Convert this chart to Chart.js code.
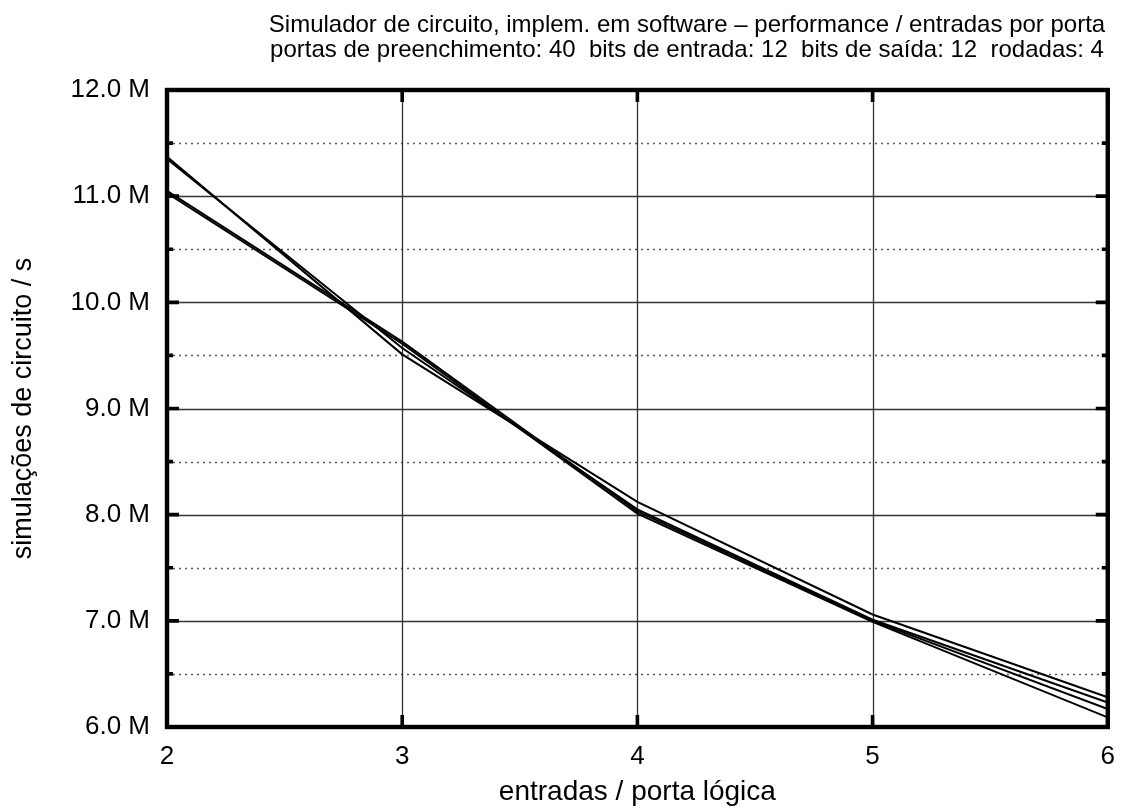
<!DOCTYPE html>
<html>
<head>
<meta charset="utf-8">
<title>Simulador de circuito – performance</title>
<script src="https://cdn.jsdelivr.net/npm/chart.js@4.4.1/dist/chart.umd.min.js"></script>
<style>
  html, body { margin: 0; padding: 0; background: #fff; }
</style>
</head>
<body>
<canvas id="perfChart" width="1121" height="812"></canvas>
<script>
/* Simulador de circuito — simulações/s por entradas por porta (4 rodadas) */

/* ------------------------------------------------------------------ */
/* Data (milhões de simulações / s)                                    */
/* ------------------------------------------------------------------ */
var inputsPerGate = [2, 3, 4, 5, 6];
var run1 = [11.37, 9.51, 8.12, 7.06, 6.28];
var run2 = [11.35, 9.57, 8.05, 7.01, 6.23];
var run3 = [11.05, 9.63, 8.03, 7.00, 6.17];
var run4 = [11.03, 9.61, 8.01, 6.99, 6.09];
var yTicks = [6, 6.5, 7, 7.5, 8, 8.5, 9, 9.5, 10, 10.5, 11, 11.5, 12];
var titleLines = [
  "Simulador de circuito, implem. em software \u2013 performance / entradas por porta",
  "portas de preenchimento: 40  bits de entrada: 12  bits de saída: 12  rodadas: 4"
];

var FONT = "'Liberation Sans', Arial, Helvetica, sans-serif";

function points(values) {
  return values.map(function (v, i) { return { x: inputsPerGate[i], y: v }; });
}

function lineSet(label, values) {
  return {
    label: label,
    data: points(values),
    borderColor: "#000",
    borderWidth: 2,
    pointRadius: 0,
    tension: 0,
    fill: false,
  };
}

/* ------------------------------------------------------------------ */
/* Gnuplot-like frame: grid behind, border + inward ticks on top       */
/* ------------------------------------------------------------------ */
var gnuplotFrame = {
  id: "gnuplotFrame",
  beforeDatasetsDraw: function (chart) {
    var c = chart.ctx, a = chart.chartArea;
    var xs = chart.scales.x, ys = chart.scales.y;
    c.save();
    ys.ticks.forEach(function (t) {
      var y = Math.round(ys.getPixelForValue(t.value)) + 0.5;
      var major = t.value % 1 === 0;
      c.strokeStyle = major ? "#333" : "#555";
      c.lineWidth = major ? 1.3 : 1.6;
      c.setLineDash(major ? [] : [2, 4]);
      c.beginPath(); c.moveTo(a.left, y); c.lineTo(a.right, y); c.stroke();
    });
    c.setLineDash([]);
    c.strokeStyle = "#333";
    c.lineWidth = 1.3;
    xs.ticks.forEach(function (t) {
      var x = Math.round(xs.getPixelForValue(t.value)) + 0.5;
      c.beginPath(); c.moveTo(x, a.top); c.lineTo(x, a.bottom); c.stroke();
    });
    c.restore();
  },
  afterDatasetsDraw: function (chart) {
    var c = chart.ctx, a = chart.chartArea;
    var xs = chart.scales.x, ys = chart.scales.y;
    c.save();
    c.strokeStyle = "#000";
    c.lineWidth = 3.6;
    ys.ticks.forEach(function (t) {
      var y = ys.getPixelForValue(t.value);
      var len = t.value % 1 === 0 ? 12 : 6;
      c.beginPath();
      c.moveTo(a.left, y); c.lineTo(a.left + len, y);
      c.moveTo(a.right, y); c.lineTo(a.right - len, y);
      c.stroke();
    });
    xs.ticks.forEach(function (t) {
      var x = xs.getPixelForValue(t.value);
      c.beginPath();
      c.moveTo(x, a.bottom); c.lineTo(x, a.bottom - 12);
      c.moveTo(x, a.top); c.lineTo(x, a.top + 12);
      c.stroke();
    });
    c.lineWidth = 4.4;
    c.strokeRect(a.left, a.top, a.right - a.left, a.bottom - a.top);
    c.restore();
  },
  afterDraw: function (chart) {
    var c = chart.ctx;
    c.save();
    c.fillStyle = "#000";
    c.font = "24px " + FONT;
    c.textAlign = "center";
    c.textBaseline = "alphabetic";
    c.fillText(titleLines[0], 687, 32);
    c.fillText(titleLines[1], 687, 57);
    c.restore();
  },
};

/* ------------------------------------------------------------------ */
/* Chart                                                               */
/* ------------------------------------------------------------------ */
new Chart(document.getElementById("perfChart"), {
  type: "line",
  data: {
    datasets: [
      lineSet("rodada 1", run1),
      lineSet("rodada 2", run2),
      lineSet("rodada 3", run3),
      lineSet("rodada 4", run4),
    ],
  },
  options: {
    responsive: false,
    animation: false,
    devicePixelRatio: 1,
    layout: { padding: { left: 0, right: 12, top: 90, bottom: 0 } },
    plugins: {
      legend: { display: false },
      tooltip: { enabled: false },
      title: { display: false },
    },
    scales: {
      x: {
        type: "linear",
        min: 2,
        max: 6,
        grid: { display: false },
        border: { display: false },
        ticks: { stepSize: 1, padding: 6, color: "#000", font: { family: FONT, size: 26 } },
        title: {
          display: true,
          text: "entradas / porta lógica",
          color: "#000",
          font: { family: FONT, size: 28 },
          padding: { top: 0, bottom: 3 },
        },
        afterFit: function (scale) { scale.height = 85; },
      },
      y: {
        type: "linear",
        min: 6,
        max: 12,
        grid: { display: false },
        border: { display: false },
        afterBuildTicks: function (scale) {
          scale.ticks = yTicks.map(function (v) { return { value: v }; });
        },
        ticks: {
          padding: 9,
          color: "#000",
          font: { family: FONT, size: 26 },
          callback: function (v) { return v % 1 === 0 ? v.toFixed(1) + " M" : ""; },
        },
        title: {
          display: true,
          text: "simulações de circuito / s",
          color: "#000",
          font: { family: FONT, size: 27 },
          padding: { top: 7, bottom: 0 },
        },
        afterFit: function (scale) { scale.width = 167; },
      },
    },
  },
  plugins: [gnuplotFrame],
});
</script>
</body>
</html>
